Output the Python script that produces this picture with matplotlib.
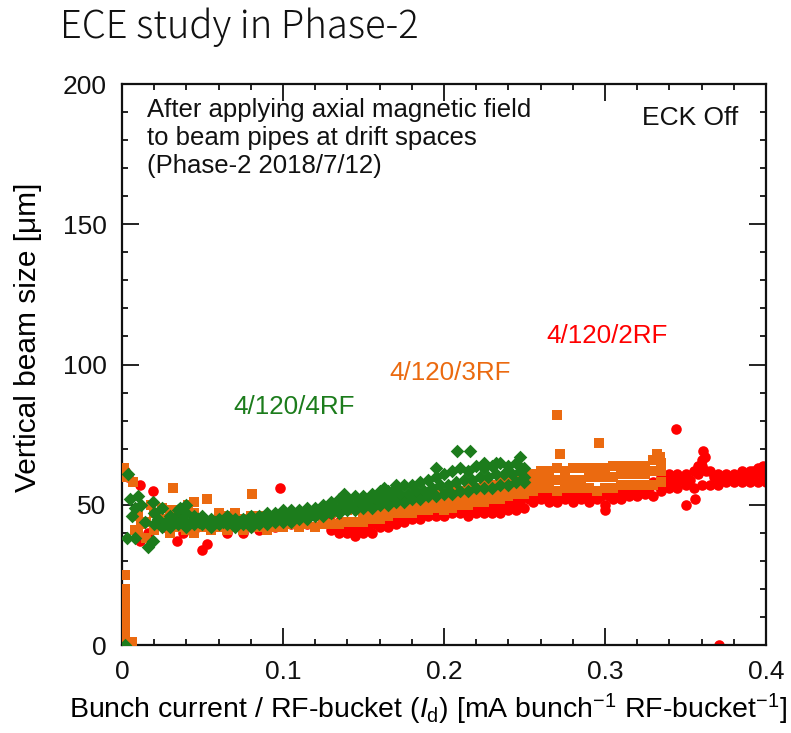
import matplotlib
matplotlib.use("Agg")
import matplotlib.pyplot as plt
from matplotlib.ticker import MultipleLocator, FixedLocator, FixedFormatter

plt.rcParams['font.family'] = ['Liberation Sans', 'DejaVu Sans']
plt.rcParams['mathtext.fontset'] = 'custom'
plt.rcParams['mathtext.rm'] = 'Liberation Sans'
plt.rcParams['mathtext.it'] = 'Liberation Sans:italic'

# ---------------- data ----------------
# 4/120/2RF (red circles)
red_x = [0.002, 0.004, 0.011, 0.019, 0.011, 0.016, 0.026, 0.034, 0.038, 0.045, 0.050, 0.053,
         0.060, 0.065, 0.070, 0.075, 0.080, 0.085, 0.090, 0.095, 0.098, 0.100, 0.105, 0.110,
         0.115, 0.120, 0.125,
         0.344, 0.360, 0.361, 0.358, 0.300, 0.350, 0.356, 0.371, 0.362, 0.398, 0.392]
red_y = [62, 60, 57, 55, 37, 40, 42, 37, 40, 41, 34, 36,
         45, 40, 43, 40, 42, 41, 43, 42, 56, 44, 43, 45,
         43, 46, 44,
         77, 66, 69, 64, 48, 50, 52, 0, 67, 64, 62]
red_band_x = [0.130, 0.135, 0.140, 0.145, 0.150, 0.155, 0.160, 0.165, 0.170, 0.175, 0.180,
              0.185, 0.190, 0.195, 0.200, 0.205, 0.210, 0.215, 0.220, 0.225, 0.230, 0.235,
              0.240, 0.245, 0.250, 0.255, 0.260, 0.265, 0.270, 0.275, 0.280, 0.285, 0.290,
              0.295, 0.300, 0.305, 0.310, 0.315, 0.320, 0.325, 0.330, 0.335, 0.340, 0.345,
              0.350, 0.355, 0.360, 0.365, 0.370, 0.375, 0.380, 0.385, 0.390, 0.395, 0.400]
red_band_lo = [41, 40, 40, 39, 40, 40, 42, 42, 43, 44, 45,
               45, 46, 46, 46, 47, 47, 46, 47, 47, 47, 47,
               48, 48, 49, 51, 52, 51, 51, 52, 51, 52, 51,
               52, 50, 52, 52, 53, 53, 54, 53, 55, 56, 56,
               57, 56, 57, 57, 57, 58, 58, 58, 58, 58, 58]
red_band_hi = [44, 44, 43, 43, 44, 44, 45, 45, 46, 47, 48,
               48, 49, 49, 49, 50, 50, 50, 50, 50, 51, 51,
               52, 52, 53, 54, 55, 54, 54, 55, 55, 55, 55,
               55, 55, 55, 56, 56, 57, 57, 58, 60, 61, 61,
               61, 62, 64, 62, 61, 61, 61, 62, 62, 63, 63]
red_mid_x = [0.1325, 0.1375, 0.1425, 0.1475, 0.1525, 0.1575, 0.1625, 0.1675, 0.1725, 0.1775,
             0.1825, 0.1875, 0.1925, 0.1975, 0.2025, 0.2075, 0.2125, 0.2175, 0.2225, 0.2275,
             0.2325, 0.2375, 0.2425, 0.2475, 0.2525, 0.2575, 0.2625, 0.2675, 0.2725, 0.2775,
             0.2825, 0.2875, 0.2925, 0.2975, 0.3025, 0.3075, 0.3125, 0.3175, 0.3225, 0.3275,
             0.3325, 0.3375, 0.3425, 0.3475, 0.3525, 0.3575, 0.3625, 0.3675, 0.3725, 0.3775,
             0.3825, 0.3875, 0.3925, 0.3975]
red_mid_y = [42, 42, 41, 41, 42, 43, 43, 44, 45, 46,
             46, 47, 47, 47, 48, 48, 48, 48, 48, 49,
             49, 50, 50, 51, 52, 53, 53, 52, 53, 53,
             53, 53, 53, 53, 53, 54, 54, 55, 55, 56,
             57, 58, 58, 59, 59, 61, 62, 60, 59, 60,
             60, 60, 61, 61]

# 4/120/3RF (orange squares)
orange_x = [0.001, 0.002, 0.002, 0.002, 0.002, 0.002, 0.002, 0.002, 0.002, 0.004, 0.006,
            0.003, 0.007, 0.032, 0.053, 0.081, 0.045, 0.041, 0.036, 0.025, 0.018, 0.012,
            0.008, 0.270, 0.296, 0.272, 0.332, 0.334, 0.060, 0.070]
orange_y = [63, 25, 20, 17, 14, 11, 8, 5, 2, 1, 1,
            60, 58, 56, 52, 54, 51, 50, 48, 49, 50, 43,
            41, 82, 72, 68, 68, 67, 47, 47]
orange_band_x = [0.010, 0.015, 0.020, 0.025, 0.030, 0.035, 0.040, 0.045, 0.050, 0.055, 0.060,
                 0.065, 0.070, 0.075, 0.080, 0.085, 0.090, 0.095, 0.100, 0.105, 0.110, 0.115,
                 0.120, 0.125, 0.130, 0.135, 0.140, 0.145, 0.150, 0.155, 0.160, 0.165, 0.170,
                 0.175, 0.180, 0.185, 0.190, 0.195, 0.200, 0.205, 0.210, 0.215, 0.220, 0.225,
                 0.230, 0.235, 0.240, 0.245, 0.250, 0.255, 0.260, 0.265, 0.270, 0.275, 0.280,
                 0.285, 0.290, 0.295, 0.300, 0.305, 0.310, 0.315, 0.320, 0.325, 0.330, 0.335]
orange_band_lo = [40, 38, 41, 43, 40, 42, 41, 40, 42, 41, 42,
                  41, 42, 41, 42, 42, 41, 42, 42, 43, 42, 43,
                  42, 43, 43, 43, 44, 44, 44, 45, 45, 46, 47,
                  47, 47, 48, 48, 49, 48, 49, 50, 50, 51, 51,
                  52, 52, 53, 54, 54, 55, 56, 56, 55, 56, 56,
                  56, 56, 55, 56, 56, 57, 57, 57, 57, 57, 58]
orange_band_hi = [46, 44, 47, 45, 48, 46, 49, 47, 45, 44, 45,
                  46, 45, 45, 46, 46, 45, 46, 46, 46, 47, 46,
                  47, 47, 47, 48, 48, 49, 49, 50, 50, 51, 51,
                  52, 52, 53, 53, 54, 54, 55, 55, 56, 56, 57,
                  57, 58, 58, 59, 60, 61, 62, 62, 63, 62, 63,
                  63, 63, 63, 63, 64, 64, 64, 64, 64, 66, 65]
orange_mid_x = [0.150, 0.155, 0.160, 0.165, 0.170, 0.175, 0.180, 0.185, 0.190, 0.195, 0.200,
                0.205, 0.210, 0.215, 0.220, 0.225, 0.230, 0.235, 0.240, 0.245, 0.250, 0.255,
                0.260, 0.265, 0.270, 0.275, 0.280, 0.285, 0.290, 0.295, 0.300, 0.305, 0.310,
                0.315, 0.320, 0.325, 0.330, 0.335]
orange_mid_y = [47, 47, 48, 48, 49, 49, 50, 50, 51, 51, 51,
                52, 53, 53, 54, 54, 55, 55, 56, 56, 57, 58,
                59, 59, 59, 59, 59, 59, 60, 60, 60, 60, 61,
                61, 61, 61, 62, 62]

# 4/120/4RF (green diamonds)
green_x = [0.002, 0.003, 0.004, 0.005, 0.006, 0.008, 0.010, 0.012, 0.008, 0.014, 0.016,
           0.019, 0.019, 0.036, 0.040, 0.030, 0.048, 0.138, 0.163, 0.170, 0.208, 0.216,
           0.247, 0.225, 0.232, 0.195, 0.250]
green_y = [0, 38, 61, 52, 46, 38, 53, 50, 49, 44, 35,
           37, 51, 49, 50, 45, 44, 54, 56, 57, 69, 69,
           67, 65, 65, 63, 60]
green_band_x = [0.020, 0.025, 0.030, 0.035, 0.040, 0.045, 0.050, 0.055, 0.060, 0.065, 0.070,
                0.075, 0.080, 0.085, 0.090, 0.095, 0.100, 0.105, 0.110, 0.115, 0.120, 0.125,
                0.130, 0.135, 0.140, 0.145, 0.150, 0.155, 0.160, 0.165, 0.170, 0.175, 0.180,
                0.185, 0.190, 0.195, 0.200, 0.205, 0.210, 0.215, 0.220, 0.225, 0.230, 0.235,
                0.240, 0.245, 0.250]
green_band_lo = [43, 42, 42, 43, 42, 43, 43, 42, 43, 43, 42,
                 43, 42, 43, 43, 44, 44, 44, 45, 45, 46, 46,
                 47, 47, 48, 48, 49, 49, 50, 50, 51, 51, 52,
                 52, 53, 53, 54, 54, 55, 55, 56, 56, 56, 57,
                 57, 58, 58]
green_band_hi = [47, 49, 46, 48, 47, 46, 46, 45, 45, 46, 45,
                 45, 46, 46, 47, 47, 48, 48, 48, 49, 49, 50,
                 51, 52, 52, 53, 53, 54, 55, 55, 56, 57, 57,
                 58, 59, 60, 61, 62, 63, 62, 64, 63, 64, 65,
                 64, 65, 63]
green_mid_x = [0.0225, 0.0275, 0.0325, 0.0375, 0.0425, 0.0475, 0.0525, 0.0575, 0.0625, 0.0675,
               0.0725, 0.0775, 0.0825, 0.0875, 0.0925, 0.0975, 0.1025, 0.1075, 0.1125, 0.1175,
               0.1225, 0.1275, 0.1325, 0.1375, 0.1425, 0.1475, 0.1525, 0.1575, 0.1625, 0.1675,
               0.1725, 0.1775, 0.1825, 0.1875, 0.1925, 0.1975, 0.2025, 0.2075, 0.2125, 0.2175,
               0.2225, 0.2275, 0.2325, 0.2375, 0.2425, 0.2475]
green_mid_y = [45, 44, 45, 45, 44, 45, 44, 44, 44, 44,
               44, 44, 44, 45, 45, 46, 46, 46, 47, 47,
               48, 48, 49, 50, 50, 51, 51, 52, 52, 53,
               54, 54, 55, 55, 56, 57, 57, 58, 59, 59,
               60, 60, 61, 61, 61, 62]

x_ticks = [0.0, 0.1, 0.2, 0.3, 0.4]
x_tick_labels = ['0', '0.1', '0.2', '0.3', '0.4']
y_ticks = [0, 50, 100, 150, 200]
y_tick_labels = ['0', '50', '100', '150', '200']

RED = '#ff0000'
ORANGE = '#eb6a10'
GREEN = '#1c7c1c'

# ---------------- figure ----------------
fig = plt.figure(figsize=(7.91, 7.33), dpi=100)
ax = fig.add_axes([0.1542, 0.12, 0.8142, 0.7654])

for xs, ys in [(red_x, red_y), (red_band_x, red_band_lo), (red_band_x, red_band_hi),
               (red_mid_x, red_mid_y)]:
    ax.scatter(xs, ys, s=58, marker='o', color=RED, linewidths=0, zorder=2)

for xs, ys in [(orange_x, orange_y), (orange_band_x, orange_band_lo),
               (orange_band_x, orange_band_hi), (orange_mid_x, orange_mid_y)]:
    ax.scatter(xs, ys, s=56, marker='s', color=ORANGE, linewidths=0, zorder=3)

for xs, ys in [(green_x, green_y), (green_band_x, green_band_lo),
               (green_band_x, green_band_hi), (green_mid_x, green_mid_y)]:
    ax.scatter(xs, ys, s=48, marker='D', color=GREEN, linewidths=0, zorder=4)

ax.set_xlim(0, 0.4)
ax.set_ylim(0, 200)
ax.xaxis.set_major_locator(FixedLocator(x_ticks))
ax.xaxis.set_major_formatter(FixedFormatter(x_tick_labels))
ax.yaxis.set_major_locator(FixedLocator(y_ticks))
ax.yaxis.set_major_formatter(FixedFormatter(y_tick_labels))
ax.xaxis.set_minor_locator(MultipleLocator(0.02))
ax.yaxis.set_minor_locator(MultipleLocator(10))
ax.tick_params(which='both', direction='in', top=True, right=True, width=1.3, colors='#111111')
ax.tick_params(which='major', length=12, labelsize=19, pad=11)
ax.tick_params(which='minor', length=4.5)
for sp in ax.spines.values():
    sp.set_linewidth(1.6)
    sp.set_color('#111111')

ax.set_xlabel(r'Bunch current / RF-bucket ($I_{\rm d}$) [mA bunch$^{-1}$ RF-bucket$^{-1}$]',
              fontsize=20.5)
ax.xaxis.set_label_coords(0.475, -0.083)
ax.set_ylabel('Vertical beam size [\u03bcm]', fontsize=21.5)
ax.yaxis.set_label_coords(-0.124, 0.549)

ax.text(0.0155, 195, 'After applying axial magnetic field\nto beam pipes at drift spaces\n(Phase-2 2018/7/12)',
        fontsize=18.5, va='top', ha='left', linespacing=1.2, color='#111111')
ax.text(0.383, 188, 'ECK Off', fontsize=19, va='center', ha='right', color='#111111')
ax.text(0.301, 110, '4/120/2RF', fontsize=18.7, va='center', ha='center', color=RED)
ax.text(0.204, 97, '4/120/3RF', fontsize=18.7, va='center', ha='center', color=ORANGE)
ax.text(0.107, 85, '4/120/4RF', fontsize=18.7, va='center', ha='center', color=GREEN)

fig.text(0.076, 0.963, 'ECE study in Phase-2', fontsize=27.5, va='center', ha='left',
         family=['Noto Sans CJK JP', 'DejaVu Sans'], fontweight='light', color='#111111')

fig.savefig('out.png', dpi=100)
